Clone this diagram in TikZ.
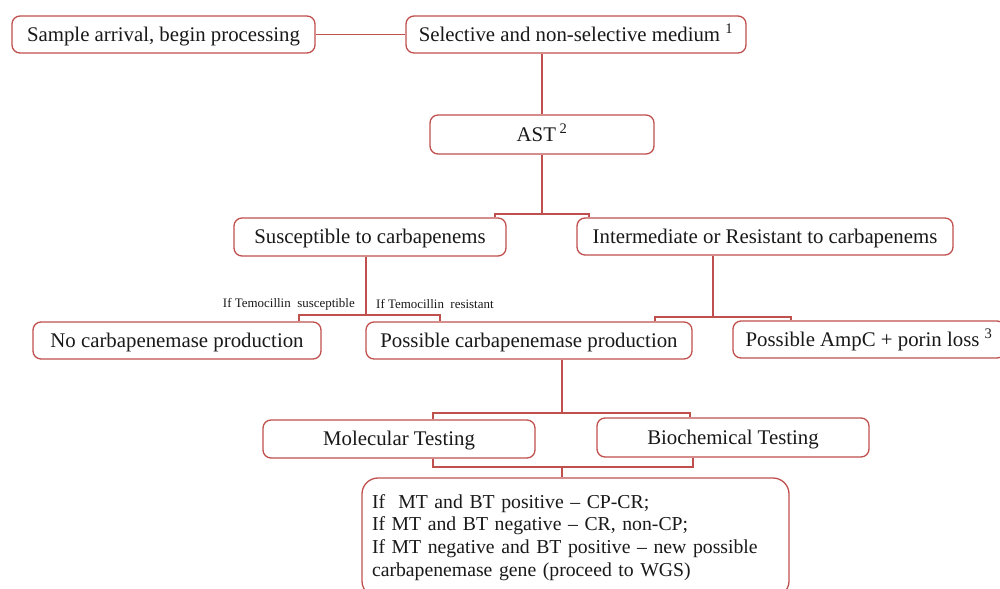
\documentclass[tikz,border=0pt]{standalone}
\usepackage{fontspec}
\setmainfont{Liberation Serif}
\definecolor{lnred}{RGB}{192,80,77}
\tikzset{
  box/.style={draw=lnred, line width=1.3bp, rounded corners=8bp, fill=white, inner sep=0pt,
    font=\fontsize{20.9}{24}\selectfont, text=black!90, text height=13.8bp, text depth=0bp},
  conn/.style={draw=lnred, line width=1.3bp},
  lbl/.style={font=\fontsize{13}{15}\selectfont, inner sep=0pt, text=black!90}
}
\begin{document}
\begin{tikzpicture}[x=1bp,y=-1bp]
\useasboundingbox (0,0) rectangle (1000,589);
% nodes
\node[box, minimum width=303bp, minimum height=37bp] (sample) at (163.5,34.5) {Sample arrival,\ begin processing};
\node[box, minimum width=340bp, minimum height=37bp] (select) at (576,34.5) {Selective and non-selective medium \textsuperscript{1}};
\node[box, minimum width=224bp, minimum height=39bp] (ast) at (542,134.5) {AST\,\textsuperscript{2}};
\node[box, minimum width=272bp, minimum height=38bp] (susc) at (370,237) {Susceptible to carbapenems};
\node[box, minimum width=376bp, minimum height=37bp] (inter) at (765,236.5) {Intermediate or Resistant to carbapenems};
\node[box, minimum width=288bp, minimum height=37bp] (nocp) at (177,340.5) {No carbapenemase production};
\node[box, minimum width=326bp, minimum height=37bp] (poss) at (529,340.5) {Possible carbapenemase production};
\node[box, minimum width=272bp, minimum height=37bp] (ampc) at (869,339.5) {Possible AmpC + porin loss \textsuperscript{3}};
\node[box, minimum width=272bp, minimum height=38bp] (mol) at (399,439) {Molecular Testing};
\node[box, minimum width=272bp, minimum height=39bp] (bio) at (733,437.5) {Biochemical Testing};
\node[box, rounded corners=16bp, minimum width=427bp, minimum height=119bp, text width=407bp, align=left,
  text height=, text depth=,
  font=\fontsize{19.8}{22.8}\selectfont] (final) at (575.5,537.5)
  {If\ \ MT and BT positive -- CP-CR;\\
   If MT and BT negative -- CR, non-CP;\\
   If MT negative and BT positive -- new possible\\
   carbapenemase gene (proceed to WGS)};
% labels
\node[lbl, anchor=east] (lsus) at (355,304) {If Temocillin\ \ susceptible};
\node[lbl, anchor=west] (lres) at (376,304) {If Temocillin\ \ resistant};
% bracket coordinates
\coordinate (b1L) at (495,214); \coordinate (b1R) at (589,214);
\coordinate (b2L) at (299,315); \coordinate (b2R) at (440,315); \coordinate (b2M) at (366,315);
\coordinate (b3L) at (655,317); \coordinate (b3R) at (791,317); \coordinate (b3M) at (713,317);
\coordinate (b4L) at (433,413); \coordinate (b4R) at (690,413);
\coordinate (b5L) at (433,467); \coordinate (b5R) at (693,467); \coordinate (b5M) at (562,467);
% connectors
\draw[conn] (sample.east) -- (select.west);
\draw[conn] (select.south -| ast.north) -- (ast.north);
\draw[conn] (ast.south) -- (ast.south |- b1L);
\draw[conn] (b1L |- susc.north) -- (b1L) -- (b1R) -- (b1R |- inter.north);
\draw[conn] (b2M |- susc.south) -- (b2M);
\draw[conn] (b2L |- nocp.north) -- (b2L) -- (b2R) -- (b2R |- poss.north);
\draw[conn] (b3M |- inter.south) -- (b3M);
\draw[conn] (b3L |- poss.north) -- (b3L) -- (b3R) -- (b3R |- ampc.north);
\draw[conn] (b5M |- poss.south) -- (b5M |- b4L);
\draw[conn] (b4L |- mol.north) -- (b4L) -- (b4R) -- (b4R |- bio.north);
\draw[conn] (b5L |- mol.south) -- (b5L) -- (b5R) -- (b5R |- bio.south);
\draw[conn] (b5M) -- (final.north -| b5M);
\end{tikzpicture}
\end{document}
